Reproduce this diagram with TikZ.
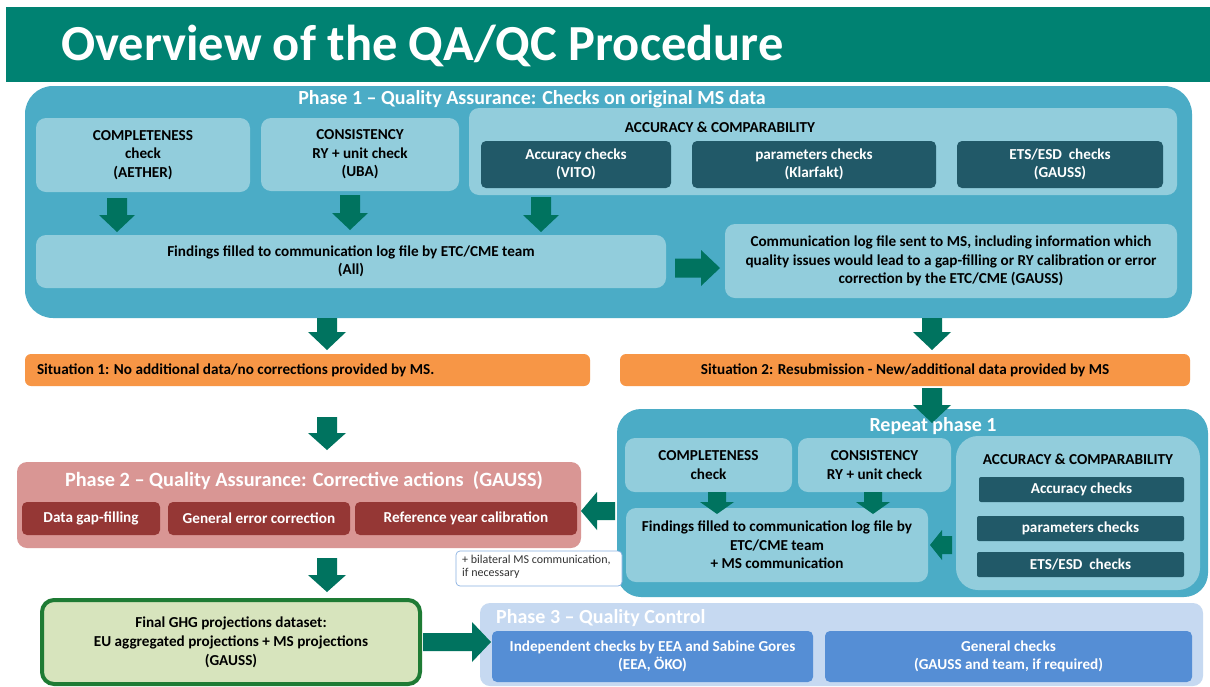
\documentclass[tikz,border=0pt]{standalone}
\usepackage{fontspec}
\setmainfont{Carlito}
\definecolor{hdr}{HTML}{008272}
\definecolor{pone}{HTML}{4BACC6}
\definecolor{lbox}{HTML}{92CDDC}
\definecolor{dbox}{HTML}{215968}
\definecolor{arr}{HTML}{00735F}
\definecolor{orng}{HTML}{F79646}
\definecolor{pnk}{HTML}{D99694}
\definecolor{dred}{HTML}{953735}
\definecolor{fgfill}{HTML}{D7E4BD}
\definecolor{fgbord}{HTML}{1E7B34}
\definecolor{pthree}{HTML}{C6D9F1}
\definecolor{bl}{HTML}{558ED5}
\newcommand\bx[7]{\node[#6, minimum width={#4-#2}, minimum height={#5-#3}] (#1) at ({(#2+#4)/2},{(#3+#5)/2}) {#7};}
\newcommand\dnarr[6]{% x, ytop, ybot, shaft half, head half, head len
  \fill[arr] ({#1-#4},#2) -- ({#1+#4},#2) -- ({#1+#4},{#3-#6}) -- ({#1+#5},{#3-#6}) -- (#1,#3) -- ({#1-#5},{#3-#6}) -- ({#1-#4},{#3-#6}) -- cycle;}
\newcommand\hzarr[6]{% y, xstart, xtip, shaft half, head half, head len (signed)
  \fill[arr] (#2,{#1-#4}) -- (#2,{#1+#4}) -- ({#3-#6},{#1+#4}) -- ({#3-#6},{#1+#5}) -- (#3,#1) -- ({#3-#6},{#1-#5}) -- ({#3-#6},{#1-#4}) -- cycle;}
\tikzset{
  base/.style={inner sep=0pt, outer sep=0pt, align=center, font=\bfseries\fontsize{15.2}{18.5}\selectfont},
  outerbox/.style={base, fill=pone, rounded corners=28pt},
  lightbox/.style={base, fill=lbox, rounded corners=10pt},
  darkbox/.style={base, fill=dbox, rounded corners=5pt, text=white},
  sitbox/.style={base, fill=orng, rounded corners=6pt},
  redbox/.style={base, fill=dred, rounded corners=5pt, text=white},
  bluebox/.style={base, fill=bl, rounded corners=5pt, text=white},
  ttl/.style={inner sep=0pt, text=white, font=\bfseries\fontsize{20}{22}\selectfont},
}
\begin{document}
\begin{tikzpicture}[x=1pt,y=-1pt]
\useasboundingbox (0,0) rectangle (1210,686);
\fill[white] (0,0) rectangle (1210,686);
% header
\bx{hdr}{6}{7}{1210}{82}{base, fill=hdr}{}
\node[inner sep=0pt, anchor=west, text=white, font=\bfseries\fontsize{50.5}{54}\selectfont] (title) at (61,46) {Overview of the QA/QC Procedure};
% phase 1
\bx{p1}{25}{86}{1192}{318}{outerbox}{}
\node[ttl] (p1t) at (532,99) {Phase 1 – Quality Assurance: Checks on original MS data};
\bx{comp}{36}{118}{250}{192}{lightbox}{COMPLETENESS\\check\\(AETHER)}
\bx{cons}{261}{118}{459}{191}{lightbox}{CONSISTENCY\\RY + unit check\\(UBA)}
\bx{acc}{469}{108}{1177}{195}{lightbox}{}
\node[base] (acct) at (720,127) {ACCURACY \& COMPARABILITY};
\bx{vito}{481}{141}{671}{188}{darkbox}{Accuracy checks\\(VITO)}
\bx{klar}{692}{141}{936}{188}{darkbox}{parameters checks\\(Klarfakt)}
\bx{ets}{957}{141}{1163}{188}{darkbox}{ETS/ESD~ checks\\(GAUSS)}
\bx{find}{36}{235}{666}{288}{lightbox}{Findings filled to communication log file by ETC/CME team\\(All)}
\bx{clog}{725}{224}{1177}{298}{lightbox}{Communication log file sent to MS, including information which\\quality issues would lead to a gap-filling or RY calibration or error\\correction by the ETC/CME (GAUSS)}
\dnarr{117}{198}{232}{10}{18}{17}
\dnarr{350}{195}{230}{10}{18}{17}
\dnarr{541}{197}{232}{10}{18}{17}
\hzarr{268}{675}{720}{9.5}{18}{19}
% situations
\dnarr{327}{318}{350}{10}{19}{18}
\dnarr{932}{318}{350}{10}{19}{18}
\bx{sit1}{25}{354}{590}{386}{sitbox}{}
\node[base, anchor=west] (sit1t) at (37,370) {Situation 1: No additional data/no corrections provided by MS.};
\bx{sit2}{620}{354}{1190}{386}{sitbox}{Situation 2: Resubmission - New/additional data provided by MS}
\dnarr{327}{417}{450}{10}{19}{17}
% repeat phase 1
\bx{rep}{617}{409}{1208}{597}{outerbox, rounded corners=24pt}{}
\dnarr{932}{388}{423}{10}{19}{18}
\node[ttl] (rept) at (933,426) {Repeat phase 1};
\bx{rcomp}{625}{438}{792}{492}{lightbox}{COMPLETENESS\\check}
\bx{rcons}{798}{438}{951}{492}{lightbox}{CONSISTENCY\\RY + unit check}
\bx{racc}{956}{436}{1200}{590}{lightbox, rounded corners=22pt}{}
\node[base] (racct) at (1078,459) {ACCURACY \& COMPARABILITY};
\bx{racc1}{979}{477}{1184}{502}{darkbox, rounded corners=2pt}{Accuracy checks}
\bx{racc2}{977}{516}{1184}{541}{darkbox, rounded corners=2pt}{parameters checks}
\bx{racc3}{977}{552}{1184}{577}{darkbox, rounded corners=2pt}{ETS/ESD~ checks}
\bx{rfind}{626}{508}{928}{582}{lightbox}{Findings filled to communication log file by\\ETC/CME team\\+ MS communication}
\dnarr{717}{492}{514}{9}{17}{12}
\dnarr{873}{492}{514}{9}{17}{12}
\hzarr{545}{952}{930}{9}{15}{-12}
% phase 2
\bx{p2}{17}{462}{581}{548}{base, fill=pnk, rounded corners=10pt}{}
\node[ttl, font=\bfseries\fontsize{20.3}{22}\selectfont] (p2t) at (304,481) {Phase 2 – Quality Assurance: Corrective actions~ (GAUSS)};
\bx{gap}{22}{502}{160}{535}{redbox}{Data gap-filling}
\bx{gen}{168}{502}{350}{535}{redbox}{General error correction}
\bx{ref}{355}{502}{577}{535}{redbox}{Reference year calibration}
\hzarr{511}{615}{581}{9}{19}{-16}
% note
\bx{note}{456}{551}{622}{586}{base, fill=white, draw=bl!70, line width=0.7pt, rounded corners=4pt}{}
\node[inner sep=0pt, anchor=north west, align=left, text=black!80, font=\fontsize{12}{13}\selectfont] (notet) at (462,555) {+ bilateral MS communication,\\if necessary};
\dnarr{327}{558}{592}{10}{19}{17}
% final
\bx{final}{42}{600}{420}{684}{base, fill=fgfill, draw=fgbord, line width=4pt, rounded corners=12pt, font=\bfseries\fontsize{15.2}{19}\selectfont}{Final GHG projections dataset:\\EU aggregated projections + MS projections\\(GAUSS)}
% phase 3
\bx{p3}{480}{603}{1203}{686}{base, fill=pthree, rounded corners=10pt}{}
\node[ttl, anchor=west] (p3t) at (496,618) {Phase 3 – Quality Control};
\bx{indep}{492}{631}{813}{682}{bluebox}{Independent checks by EEA and Sabine Gores\\(EEA, ÖKO)}
\bx{genc}{825}{631}{1192}{682}{bluebox}{General checks\\(GAUSS and team, if required)}
\hzarr{642}{423}{491}{9}{20}{19}
\end{tikzpicture}
\end{document}
